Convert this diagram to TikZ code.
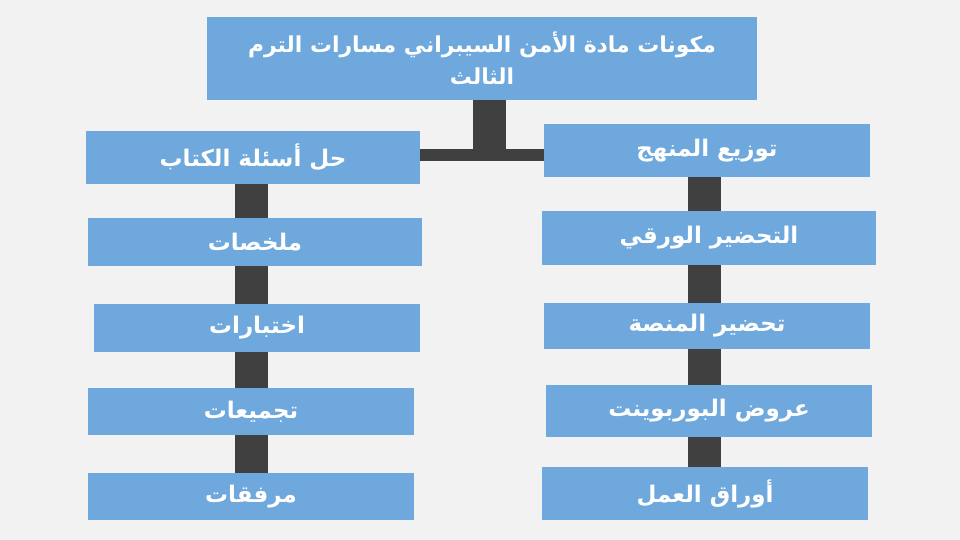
\documentclass[tikz,border=0pt]{standalone}
\usepackage{fontspec}
\newfontfamily\arabicfont[Script=Arabic]{DejaVu Sans}
\TeXXeTstate=1
\usetikzlibrary{backgrounds}

\definecolor{boxblue}{RGB}{111,168,220}
\definecolor{bargray}{RGB}{64,64,64}
\definecolor{pagebg}{RGB}{242,242,242}

\newcommand{\rtltext}[1]{\beginR #1\endR}

\tikzset{
    topic/.style = {fill=boxblue, text=white, inner sep=0pt, align=center,
                    font=\arabicfont\bfseries\fontsize{23}{32}\selectfont},
    headline/.style = {topic, font=\arabicfont\bfseries\fontsize{22}{32}\selectfont},
    vbar/.style  = {draw=bargray, line width=33bp},
    hbar/.style  = {draw=bargray, line width=12bp},
}

\begin{document}
\begin{tikzpicture}[x=1bp, y=-1bp]
    \useasboundingbox (0,0) rectangle (960,540);

    % title and the two heads
    \node[headline, minimum width=550bp, minimum height=83bp] (title) at (482,58.5)
        {\rtltext{مكونات مادة الأمن السيبراني مسارات الترم}\\\rtltext{الثالث}};
    \node[topic, minimum width=334bp, minimum height=53bp] (l0) at (253,157.5) {\rtltext{حل أسئلة الكتاب}};
    \node[topic, minimum width=326bp, minimum height=53bp] (r0) at (707,150.5) {\rtltext{توزيع المنهج}};

    % left column
    \node[topic, minimum width=334bp, minimum height=48bp] (l1) at (255,242)   {\rtltext{ملخصات}};
    \node[topic, minimum width=326bp, minimum height=48bp] (l2) at (257,328)   {\rtltext{اختبارات}};
    \node[topic, minimum width=326bp, minimum height=47bp] (l3) at (251,411.5) {\rtltext{تجميعات}};
    \node[topic, minimum width=326bp, minimum height=47bp] (l4) at (251,496.5) {\rtltext{مرفقات}};

    % right column
    \node[topic, minimum width=334bp, minimum height=54bp] (r1) at (709,238)   {\rtltext{التحضير الورقي}};
    \node[topic, minimum width=326bp, minimum height=46bp] (r2) at (707,326)   {\rtltext{تحضير المنصة}};
    \node[topic, minimum width=326bp, minimum height=52bp] (r3) at (709,411)   {\rtltext{عروض البوربوينت}};
    \node[topic, minimum width=326bp, minimum height=53bp] (r4) at (705,493.5) {\rtltext{أوراق العمل}};

    \coordinate (fork)  at (489.5,155);
    \coordinate (leftx) at (251.5,0);
    \coordinate (rightx) at (704,0);

    \begin{scope}[on background layer]
        \fill[pagebg] (0,0) rectangle (960,540);
        \draw[vbar] (title.south -| fork) -- ([yshift=-6bp]fork);
        \draw[hbar] (l0.east |- fork) -- (r0.west |- fork);
        \foreach \a/\b in {l0/l1, l1/l2, l2/l3, l3/l4}
            \draw[vbar] (\a.south -| leftx) -- (\b.north -| leftx);
        \foreach \a/\b in {r0/r1, r1/r2, r2/r3, r3/r4}
            \draw[vbar] (\a.south -| rightx) -- (\b.north -| rightx);
    \end{scope}
\end{tikzpicture}
\end{document}
